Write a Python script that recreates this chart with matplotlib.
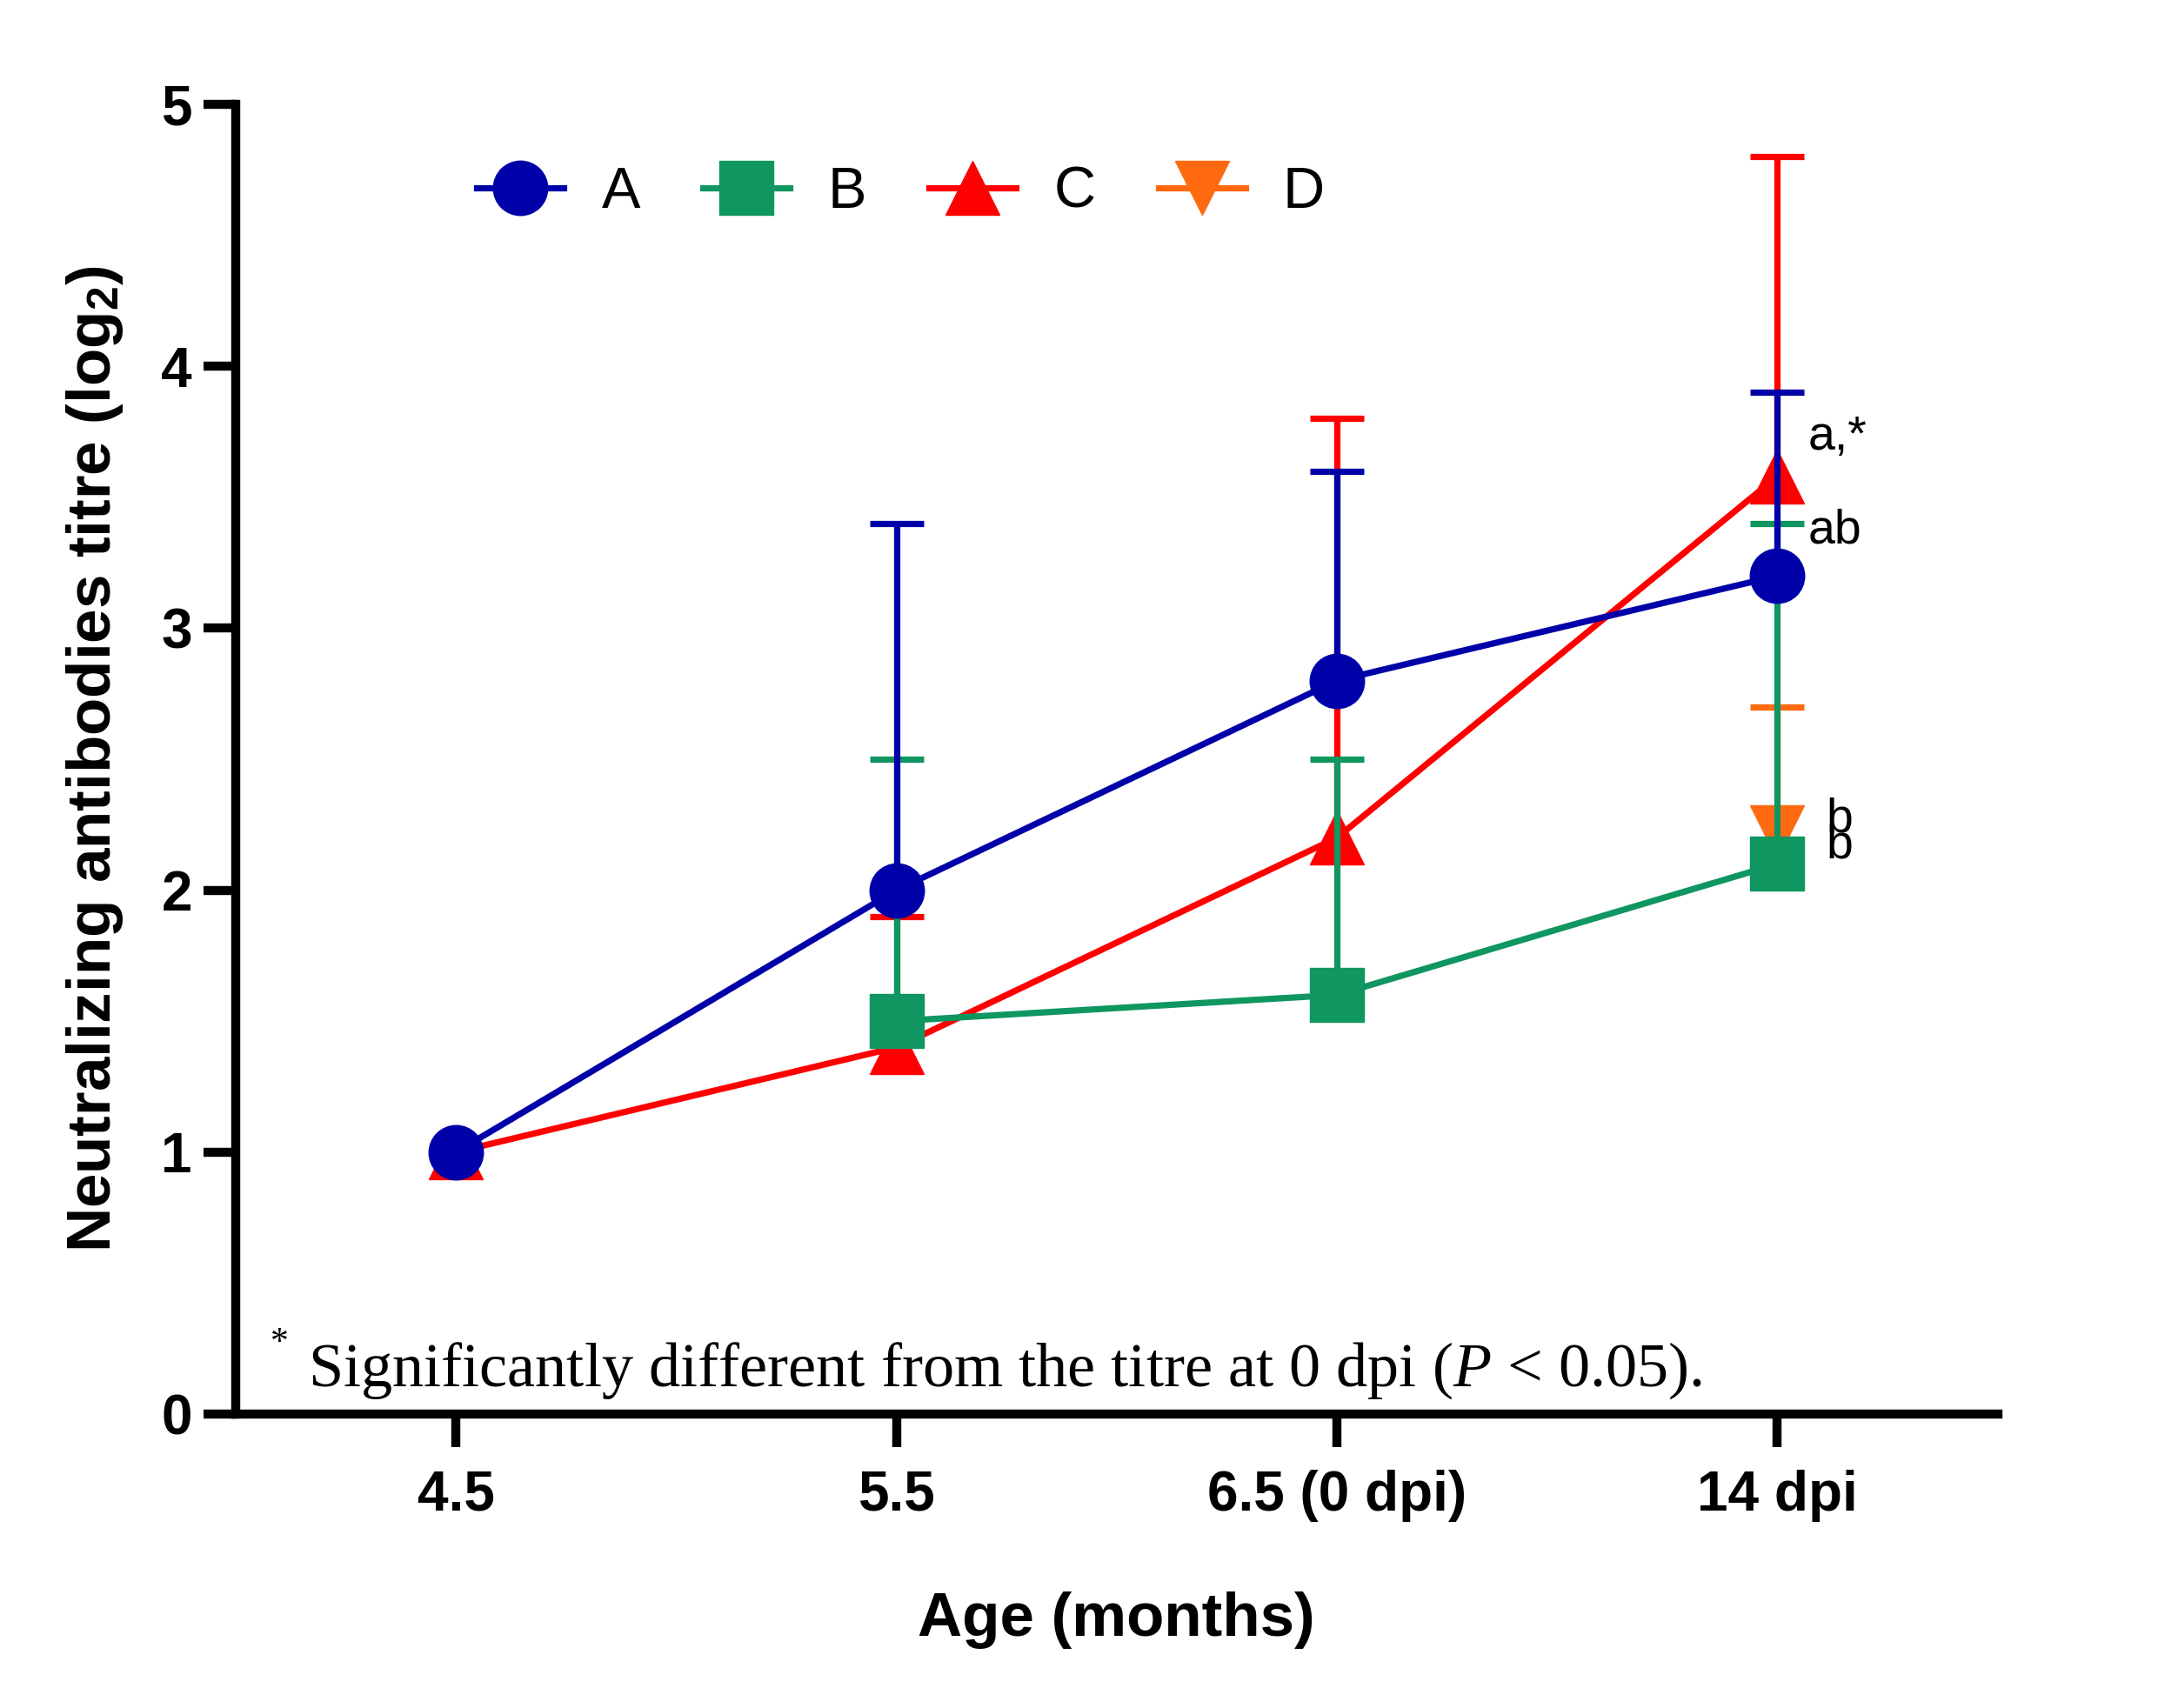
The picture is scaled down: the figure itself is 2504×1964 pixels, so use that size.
import matplotlib.pyplot as plt
import numpy as np

plt.rcParams['font.family'] = 'Liberation Sans'
plt.rcParams['mathtext.fontset'] = 'custom'
plt.rcParams['mathtext.bf'] = 'Liberation Sans:bold'
plt.rcParams['mathtext.it'] = 'Liberation Serif:italic'
plt.rcParams['mathtext.rm'] = 'Liberation Serif'

# Age points on the x axis
ages = ['4.5', '5.5', '6.5 (0 dpi)', '14 dpi']
groups = ['A', 'B', 'C', 'D']

# Mean titre (log2), nan where the group has no point
mean_a = [1.0, 2.0, 2.8, 3.2]
mean_b = [np.nan, 1.5, 1.6, 2.1]
mean_c = [1.0, 1.4, 2.2, 3.58]
mean_d = [np.nan, np.nan, np.nan, 2.22]

# Top of the error bar (mean + SD), nan where no bar is drawn
top_a = [np.nan, 3.4, 3.6, 3.9]
top_b = [np.nan, 2.5, 2.5, 3.4]
top_c = [np.nan, 1.9, 3.8, 4.8]
top_d = [np.nan, np.nan, np.nan, 2.7]

# Significance letters at 14 dpi
sig_labels = ['a,*', 'ab', 'b', 'b']
sig_y = [3.73, 3.37, 2.27, 2.17]

colors = ['#0000A8', '#109660', '#FF0000', '#FF6A10']
markers = ['o', 's', '^', 'v']

fig = plt.figure(figsize=(25.04, 19.64), dpi=100)
ax = fig.add_axes([0.1082, 0.1721, 0.809, 0.7668])

x = np.arange(len(ages))
means = [mean_a, mean_b, mean_c, mean_d]
tops = [top_a, top_b, top_c, top_d]

# draw D first, A last (A sits on top in the original)
order = [3, 2, 1, 0]
handles = {}
for rank, i in enumerate(order):
    m = np.array(means[i], dtype=float)
    t = np.array(tops[i], dtype=float)
    z = 3 + rank * 2
    ok = ~np.isnan(t)
    ax.vlines(x[ok], m[ok], t[ok], color=colors[i], lw=5.2, zorder=z)
    ax.plot(x[ok], t[ok], linestyle='none', marker='_', ms=45, mew=5.2,
            color=colors[i], zorder=z)
    line, = ax.plot(x, m, color=colors[i], lw=5.2, marker=markers[i], ms=45,
                    mec=colors[i], mfc=colors[i], zorder=z + 1, label=groups[i])
    handles[i] = line

for lab, yy in zip(sig_labels[:2], sig_y[:2]):
    ax.text(3.07, yy, lab, fontsize=40, va='center', ha='left')
for lab, yy in zip(sig_labels[2:], sig_y[2:]):
    ax.text(3.11, yy, lab, fontsize=40, va='center', ha='left')

# footnote
ax.text(-0.42, 0.27, '*', fontsize=30, family='Liberation Serif', va='center')
ax.text(-0.335, 0.165, r'Significantly different from the titre at 0 dpi ($\mathit{P}$ < 0.05).',
        fontsize=52, family='Liberation Serif', va='center', ha='left')

ax.set_xlim(-0.5, 3.5)
ax.set_ylim(0, 5)
ax.set_xticks(x)
ax.set_xticklabels(ages, fontsize=46, fontweight='bold')
ax.set_yticks([0, 1, 2, 3, 4, 5])
ax.set_yticklabels(['0', '1', '2', '3', '4', '5'], fontsize=46, fontweight='bold')
ax.tick_params(axis='both', length=27, width=7.5, direction='out')
ax.tick_params(axis='y', pad=9)
ax.tick_params(axis='x', pad=19)

ax.spines['top'].set_visible(False)
ax.spines['right'].set_visible(False)
ax.spines['left'].set_linewidth(7.5)
ax.spines['bottom'].set_linewidth(7.5)

ax.set_xlabel('Age (months)', fontsize=51, fontweight='bold', labelpad=58)
ax.set_ylabel(r'Neutralizing antibodies titre (log$_\mathbf{2}$)', fontsize=51,
              fontweight='bold', labelpad=30)

leg = fig.legend([handles[i] for i in range(4)], groups, loc='center left',
                 bbox_to_anchor=(0.219, 0.887), ncol=4, frameon=False,
                 fontsize=48, handlelength=1.5, handletextpad=0.65,
                 columnspacing=1.08, borderpad=0, borderaxespad=0)

fig.savefig('out.png', dpi=100)
